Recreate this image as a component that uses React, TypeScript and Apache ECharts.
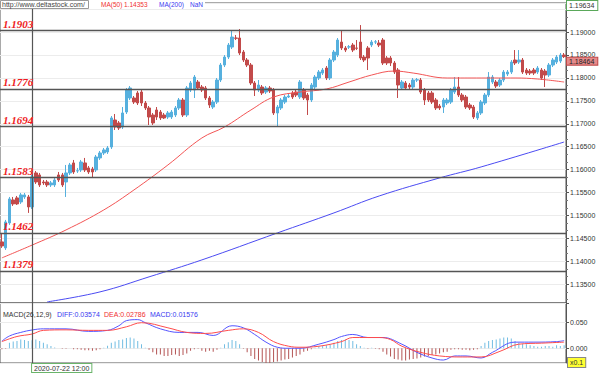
import React, { useEffect, useRef } from 'react';
import * as echarts from 'echarts';

// ---- price data (4h candles) ----
const opens = [
  1.14422, 1.14292, 1.14837, 1.15338, 1.15382, 1.15294, 1.15403, 1.15403, 1.15185, 1.15927,
  1.15883, 1.15730, 1.15730, 1.15665, 1.15665, 1.15883, 1.15883, 1.15730, 1.15927, 1.16145,
  1.15970, 1.15992, 1.16145, 1.16036, 1.16014, 1.15992, 1.16254, 1.16363, 1.16384, 1.16493,
  1.17082, 1.17017, 1.16929, 1.17256, 1.17562, 1.17562, 1.17671, 1.17692, 1.17453, 1.17344,
  1.17191, 1.17300, 1.17256, 1.17191, 1.17147, 1.17147, 1.17191, 1.17344, 1.17518, 1.17191,
  1.17736, 1.17736, 1.17910, 1.17801, 1.17780, 1.17562, 1.17365, 1.17474, 1.17954, 1.18281,
  1.18455, 1.18673, 1.18870, 1.18870, 1.18564, 1.18390, 1.18281, 1.17889, 1.17736, 1.17801,
  1.17692, 1.17780, 1.17736, 1.17235, 1.17344, 1.17474, 1.17583, 1.17671, 1.17692, 1.17583,
  1.17736, 1.17627, 1.17518, 1.17801, 1.17998, 1.18106, 1.18216, 1.17998, 1.18390, 1.18499,
  1.18782, 1.18652, 1.18673, 1.18717, 1.18652, 1.18782, 1.18455, 1.18652, 1.18717, 1.18782,
  1.18761, 1.18826, 1.18434, 1.18434, 1.18325, 1.18172, 1.17780, 1.17889, 1.17845, 1.17801,
  1.17954, 1.17954, 1.17736, 1.17671, 1.17671, 1.17518, 1.17387, 1.17365, 1.17453, 1.17474,
  1.17692, 1.17801, 1.17627, 1.17583, 1.17409, 1.17365, 1.17126, 1.17235, 1.17453, 1.17627,
  1.17910, 1.17910, 1.17845, 1.17954, 1.18085, 1.18128, 1.18390, 1.18346, 1.18390, 1.18172,
  1.18150, 1.18172, 1.18128, 1.18172, 1.18150, 1.18063, 1.18281, 1.18346, 1.18368, 1.18499,
];
const closes = [
  1.14335, 1.14858, 1.15360, 1.15251, 1.15251, 1.15447, 1.15447, 1.15185, 1.15839, 1.15730,
  1.15665, 1.15709, 1.15665, 1.15709, 1.15774, 1.15774, 1.15665, 1.15927, 1.16101, 1.15948,
  1.15975, 1.16166, 1.15992, 1.15948, 1.15948, 1.16275, 1.16363, 1.16428, 1.16472, 1.17126,
  1.16929, 1.16908, 1.17235, 1.17736, 1.17780, 1.17474, 1.17453, 1.17453, 1.17344, 1.17147,
  1.17017, 1.17147, 1.17126, 1.17126, 1.17235, 1.17256, 1.17344, 1.17518, 1.17191, 1.17780,
  1.17889, 1.18019, 1.17780, 1.17736, 1.17562, 1.17409, 1.17474, 1.17954, 1.18281, 1.18455,
  1.18717, 1.18891, 1.18865, 1.18543, 1.18390, 1.18281, 1.17889, 1.17736, 1.17845, 1.17671,
  1.17780, 1.17714, 1.17235, 1.17365, 1.17518, 1.17583, 1.17605, 1.17583, 1.17627, 1.17910,
  1.17562, 1.17518, 1.17845, 1.18019, 1.18128, 1.18172, 1.17998, 1.18390, 1.18564, 1.18826,
  1.18652, 1.18608, 1.18678, 1.18608, 1.18647, 1.18434, 1.18390, 1.18434, 1.18782, 1.18787,
  1.18717, 1.18325, 1.18325, 1.18325, 1.18128, 1.17845, 1.17910, 1.17780, 1.17801, 1.17954,
  1.17959, 1.17692, 1.17518, 1.17518, 1.17474, 1.17344, 1.17344, 1.17518, 1.17518, 1.17736,
  1.17801, 1.17627, 1.17518, 1.17365, 1.17344, 1.17147, 1.17235, 1.17474, 1.17627, 1.18019,
  1.18019, 1.17823, 1.17954, 1.18128, 1.18128, 1.18346, 1.18325, 1.18390, 1.18128, 1.18106,
  1.18106, 1.18106, 1.18216, 1.17998, 1.18063, 1.18281, 1.18390, 1.18455, 1.18499, 1.18464,
];
const lows = [
  1.14292, 1.14248, 1.14793, 1.15207, 1.15229, 1.15251, 1.15360, 1.15055, 1.15142, 1.15687,
  1.15621, 1.15665, 1.15621, 1.15621, 1.15621, 1.15730, 1.15621, 1.15403, 1.15883, 1.15905,
  1.15927, 1.15948, 1.15948, 1.15905, 1.15818, 1.15948, 1.16210, 1.16319, 1.16341, 1.16450,
  1.16864, 1.16864, 1.16886, 1.17213, 1.17518, 1.17431, 1.17409, 1.17387, 1.17300, 1.16973,
  1.16973, 1.17082, 1.17082, 1.17104, 1.17104, 1.17104, 1.17147, 1.17300, 1.17147, 1.17147,
  1.17692, 1.17562, 1.17736, 1.17692, 1.17518, 1.17344, 1.17322, 1.17431, 1.17910, 1.18237,
  1.18412, 1.18630, 1.18826, 1.18499, 1.18346, 1.18237, 1.17845, 1.17605, 1.17692, 1.17627,
  1.17649, 1.17671, 1.17191, 1.16929, 1.17300, 1.17431, 1.17562, 1.17540, 1.17583, 1.17540,
  1.17518, 1.17191, 1.17474, 1.17758, 1.17954, 1.18063, 1.17954, 1.17954, 1.18346, 1.18455,
  1.18608, 1.18564, 1.18630, 1.18564, 1.18608, 1.18390, 1.18346, 1.18172, 1.18673, 1.18739,
  1.18673, 1.18281, 1.18281, 1.18259, 1.18085, 1.17562, 1.17736, 1.17736, 1.17758, 1.17758,
  1.17910, 1.17649, 1.17409, 1.17474, 1.17431, 1.17300, 1.17300, 1.17235, 1.17409, 1.17431,
  1.17649, 1.17583, 1.17474, 1.17322, 1.17300, 1.17104, 1.17082, 1.17191, 1.17409, 1.17583,
  1.17867, 1.17780, 1.17801, 1.17910, 1.18041, 1.18085, 1.18281, 1.18303, 1.18085, 1.18063,
  1.18063, 1.18063, 1.18085, 1.17954, 1.17801, 1.18019, 1.18237, 1.18303, 1.18325, 1.18434,
];
const highs = [
  1.14618, 1.14902, 1.15403, 1.15403, 1.15425, 1.15491, 1.15491, 1.15447, 1.15883, 1.15970,
  1.15927, 1.15774, 1.15774, 1.15752, 1.15818, 1.15948, 1.15927, 1.16101, 1.16145, 1.16210,
  1.16036, 1.16210, 1.16254, 1.16079, 1.16058, 1.16319, 1.16406, 1.16472, 1.16515, 1.17169,
  1.17213, 1.17060, 1.17365, 1.17780, 1.17823, 1.17605, 1.17714, 1.17736, 1.17496, 1.17387,
  1.17235, 1.17365, 1.17300, 1.17235, 1.17278, 1.17300, 1.17387, 1.17562, 1.17562, 1.17823,
  1.17932, 1.18063, 1.17954, 1.17845, 1.17823, 1.17605, 1.17518, 1.17998, 1.18325, 1.18499,
  1.18761, 1.19044, 1.18935, 1.19066, 1.18608, 1.18434, 1.18325, 1.17932, 1.17954, 1.17845,
  1.17823, 1.17823, 1.17780, 1.17409, 1.17562, 1.17627, 1.17649, 1.17714, 1.17736, 1.17954,
  1.17780, 1.17671, 1.17889, 1.18063, 1.18172, 1.18216, 1.18259, 1.18434, 1.18608, 1.18870,
  1.19044, 1.18695, 1.18717, 1.18761, 1.18826, 1.19153, 1.18499, 1.18695, 1.18826, 1.18826,
  1.18826, 1.18870, 1.18477, 1.18477, 1.18368, 1.18216, 1.17954, 1.17932, 1.17889, 1.17998,
  1.17998, 1.17998, 1.17780, 1.17714, 1.17714, 1.17562, 1.17431, 1.17562, 1.17562, 1.17780,
  1.18019, 1.18019, 1.17671, 1.17627, 1.17453, 1.17409, 1.17278, 1.17518, 1.17671, 1.18128,
  1.18063, 1.17954, 1.17998, 1.18172, 1.18172, 1.18390, 1.18608, 1.18608, 1.18434, 1.18216,
  1.18194, 1.18216, 1.18259, 1.18216, 1.18194, 1.18325, 1.18434, 1.18499, 1.18543, 1.18543,
];

// Moving averages, read at sampled candle indices
const ma50Idx = [0, 8, 17, 27, 35, 44, 53, 59, 66, 72, 79, 86, 92, 98, 104, 109, 118, 127, 136, 142, 149];
const ma50Val = [1.14074, 1.14353, 1.14684, 1.15120, 1.15556, 1.16101, 1.16690, 1.16929, 1.17300, 1.17583, 1.17692, 1.17758, 1.17910, 1.18063, 1.18150, 1.18106, 1.17998, 1.17998, 1.17998, 1.17976, 1.17910];
const ma200Idx = [12, 26, 39, 53, 73, 88, 100, 116, 127, 149];
const ma200Val = [1.13114, 1.13332, 1.13660, 1.14030, 1.14618, 1.15055, 1.15425, 1.15818, 1.16058, 1.16602];

// MACD(26,12,9)
const macdHist = [
  -0.002, -0.001, 0.011, 0.013, 0.014, 0.017, 0.016, 0.014, 0.01576, 0.017,
  0.014, 0.011, 0.008, 0.0045, 0.0013, 0.0, -0.001, -0.001, 0.0, -0.002,
  -0.002, -0.003, -0.004, -0.004, -0.005, -0.004, -0.002, 0.001, 0.005, 0.011,
  0.013, 0.016, 0.017, 0.020, 0.021, 0.019, 0.014, 0.008, 0.001, -0.003,
  -0.008, -0.012, -0.012, -0.015, -0.015, -0.013, -0.012, -0.015, -0.013, -0.010,
  -0.005, -0.002, -0.001, -0.005, -0.007, -0.005, -0.007, -0.003, 0.001, 0.008,
  0.012, 0.016, 0.014, 0.008, -0.001, -0.008, -0.015, -0.021, -0.024, -0.027,
  -0.029, -0.029, -0.027, -0.026, -0.024, -0.022, -0.021, -0.018, -0.015, -0.012,
  -0.007, -0.005, -0.002, 0.001, 0.0045, 0.0045, 0.006, 0.008, 0.011, 0.014,
  0.016, 0.017, 0.016, 0.014, 0.008, 0.0045, 0.001, -0.001, 0.001, -0.001,
  -0.002, -0.007, -0.012, -0.016, -0.021, -0.022, -0.024, -0.024, -0.022, -0.021,
  -0.020, -0.018, -0.016, -0.015, -0.013, -0.012, -0.010, -0.008, -0.007, -0.003,
  -0.002, -0.002, -0.003, -0.003, -0.004, -0.003, -0.002, 0.0045, 0.011, 0.014,
  0.016, 0.017, 0.019, 0.021, 0.021, 0.019, 0.014, 0.011, 0.009, 0.008,
  0.006, 0.0045, 0.003, 0.003, 0.0045, 0.0045, 0.003, 0.006, 0.0045, 0.006,
];
const diffIdx = [0, 2, 5, 8, 11, 17, 23, 28, 31, 33, 36, 38, 42, 47, 52, 56, 61, 64, 67, 70, 73, 76, 79, 84, 88, 90, 93, 97, 101, 106, 110, 114, 117, 120, 123, 127, 130, 136, 141, 147, 149];
const diffVal = [0.014, 0.024, 0.031, 0.03574, 0.038, 0.038, 0.033, 0.035, 0.044, 0.054, 0.056, 0.050, 0.038, 0.031, 0.031, 0.025, 0.044, 0.040, 0.027, 0.012, 0.002, 0.000, 0.000, 0.008, 0.017, 0.023, 0.027, 0.021, 0.021, 0.008, -0.008, -0.019, -0.023, -0.015, -0.015, -0.019, -0.008, 0.012, 0.012, 0.013, 0.015];
const deaIdx = [0, 4, 8, 11, 17, 23, 28, 33, 37, 44, 49, 54, 60, 64, 68, 72, 76, 79, 84, 90, 93, 100, 103, 106, 111, 116, 122, 127, 132, 137, 143, 149];
const deaVal = [0.013, 0.023, 0.02786, 0.035, 0.036, 0.035, 0.035, 0.042, 0.050, 0.040, 0.031, 0.029, 0.035, 0.038, 0.031, 0.013, 0.004, 0.002, 0.004, 0.013, 0.021, 0.021, 0.017, 0.004, -0.008, -0.015, -0.017, -0.017, -0.006, 0.008, 0.010, 0.012];

// Horizontal support / resistance levels
const levels = [1.1903, 1.1776, 1.1694, 1.1583, 1.1462, 1.1379];
const crossIdx = 8;
const lastClose = 1.18464;
const yMin = 1.1309;
const yMax = 1.19634;
const macdMin = -0.0288;
const macdMax = 0.0885;

function pad(n: number) { return n < 10 ? '0' + n : '' + n; }
function buildCategories(n: number): string[] {
  const out: string[] = [];
  let t = Date.UTC(2020, 6, 21, 4);
  while (out.length < n) {
    const d = new Date(t);
    const wd = d.getUTCDay();
    if (wd !== 0 && wd !== 6) {
      out.push(`${d.getUTCFullYear()}-${pad(d.getUTCMonth() + 1)}-${pad(d.getUTCDate())} ${pad(d.getUTCHours())}:00`);
    }
    t += 4 * 3600 * 1000;
  }
  return out;
}
const categories = buildCategories(opens.length);

const UP = '#56b0de';
const DOWN = '#c24a4a';
const SMALL = 'Liberation Sans';

export default function App() {
  const ref = useRef<HTMLDivElement>(null);
  useEffect(() => {
    if (!ref.current) return;
    const chart = echarts.init(ref.current, undefined, { renderer: 'svg' });
    const candleData = opens.map((o, i) => [o, closes[i], lows[i], highs[i]]);
    const levelLines = levels.map((v) => ({
      yAxis: v,
      lineStyle: { color: '#555', width: 1.3, type: 'solid' },
      label: {
        show: true,
        position: 'insideStartTop',
        formatter: v.toFixed(4),
        color: '#ee1c24',
        fontStyle: 'italic',
        fontWeight: 'bold',
        fontFamily: 'Liberation Serif',
        fontSize: 11,
        distance: [3, 1],
      },
    }));
    const option: any = {
      animation: false,
      backgroundColor: '#ffffff',
      grid: [
        { left: 0, right: 34, top: 3, height: 300, show: true, borderColor: '#555', borderWidth: 1, backgroundColor: 'transparent' },
        { left: 0, right: 34, top: 303, height: 61, show: true, borderColor: '#555', borderWidth: 1, backgroundColor: 'transparent' },
      ],
      xAxis: [
        {
          type: 'category', gridIndex: 0, data: categories, boundaryGap: true,
          axisLine: { show: false }, axisTick: { show: false }, axisLabel: { show: false }, splitLine: { show: false },
        },
        {
          type: 'category', gridIndex: 1, data: categories, boundaryGap: true,
          axisLine: { show: false }, axisTick: { show: false }, splitLine: { show: false },
          axisLabel: {
            interval: (i: number) => i === crossIdx,
            align: 'left', margin: 1, fontSize: 7, fontFamily: SMALL, color: '#333',
            backgroundColor: '#fff', borderColor: '#6ab46a', borderWidth: 1, padding: [1, 2, 0, 2],
          },
        },
      ],
      yAxis: [
        {
          type: 'value', gridIndex: 0, position: 'right', min: yMin, max: yMax, splitNumber: 13, scale: true,
          axisLine: { show: true, lineStyle: { color: '#555' } },
          axisTick: { show: true, length: 3, lineStyle: { color: '#555' } },
          minorTick: { show: true, splitNumber: 3, length: 2, lineStyle: { color: '#777' } },
          axisLabel: {
            showMinLabel: false, showMaxLabel: false, margin: 4, fontSize: 7, fontFamily: SMALL, color: '#333',
            formatter: (v: number) => (v > 1.1945 ? '' : v.toFixed(5)),
          },
          splitLine: { show: true, lineStyle: { color: '#ececec', width: 1 } },
        },
        {
          type: 'value', gridIndex: 1, position: 'right', min: macdMin, max: macdMax, splitNumber: 2,
          axisLine: { show: true, lineStyle: { color: '#555' } },
          axisTick: { show: true, length: 3, lineStyle: { color: '#555' } },
          axisLabel: {
            showMinLabel: false, showMaxLabel: false, margin: 4, fontSize: 7, fontFamily: SMALL, color: '#333',
            formatter: (v: number) => v.toFixed(3),
          },
          splitLine: { show: true, lineStyle: { color: '#ececec', width: 1 } },
        },
      ],
      series: [
        {
          type: 'candlestick', name: 'EURUSD', xAxisIndex: 0, yAxisIndex: 0, data: candleData,
          barWidth: 3,
          itemStyle: { color: UP, color0: DOWN, borderColor: UP, borderColor0: DOWN, borderWidth: 1 },
          markLine: {
            symbol: 'none', silent: true, animation: false, precision: 5,
            data: [
              ...levelLines,
              { xAxis: categories[crossIdx], lineStyle: { color: '#555', width: 1.2, type: 'solid' }, label: { show: false } },
              {
                yAxis: lastClose, lineStyle: { color: 'rgba(0,0,0,0)', width: 0 },
                label: {
                  show: true, position: 'end', distance: 1, formatter: lastClose.toFixed(5), fontSize: 7, fontFamily: SMALL,
                  color: '#222', backgroundColor: '#e58a8a', borderColor: '#c04848', borderWidth: 1, padding: [0, 3, 0, 2],
                  offset: [0, 4.5],
                },
              },
              {
                yAxis: yMax, lineStyle: { color: 'rgba(0,0,0,0)', width: 0 },
                label: {
                  show: true, position: 'end', distance: 1, formatter: yMax.toFixed(5), fontSize: 7, fontFamily: SMALL,
                  color: '#333', backgroundColor: '#fff', borderColor: '#5aa85a', borderWidth: 1, padding: [1, 3, 1, 2],
                  offset: [0, 2.5],
                },
              },
            ],
          },
        },
        {
          type: 'line', name: 'MA(50)', xAxisIndex: 0, yAxisIndex: 0,
          data: ma50Idx.map((x, i) => [x, ma50Val[i]]), smooth: 0.4, showSymbol: false,
          lineStyle: { color: '#f25555', width: 1 },
        },
        {
          type: 'line', name: 'MA(200)', xAxisIndex: 0, yAxisIndex: 0,
          data: ma200Idx.map((x, i) => [x, ma200Val[i]]), smooth: 0.4, showSymbol: false,
          lineStyle: { color: '#4b4bf2', width: 1 },
        },
        {
          type: 'bar', name: 'MACD', xAxisIndex: 1, yAxisIndex: 1, barWidth: 1,
          data: macdHist.map((v) => ({ value: v, itemStyle: { color: v >= 0 ? '#72bde2' : '#b45454' } })),
          markLine: {
            symbol: 'none', silent: true, animation: false,
            data: [{ xAxis: categories[crossIdx], lineStyle: { color: '#555', width: 1.2, type: 'solid' }, label: { show: false } }],
          },
        },
        {
          type: 'line', name: 'DIFF', xAxisIndex: 1, yAxisIndex: 1,
          data: diffIdx.map((x, i) => [x, diffVal[i]]), smooth: 0.4, showSymbol: false,
          lineStyle: { color: '#5555ff', width: 1 },
        },
        {
          type: 'line', name: 'DEA', xAxisIndex: 1, yAxisIndex: 1,
          data: deaIdx.map((x, i) => [x, deaVal[i]]), smooth: 0.4, showSymbol: false,
          lineStyle: { color: '#ff4c4c', width: 1 },
        },
      ],
      graphic: [
        { type: 'rect', left: 0, top: 0, shape: { width: 205, height: 9 }, style: { fill: '#fff' }, z: 50 },
        { type: 'rect', left: 0, top: 0, shape: { width: 88, height: 8 }, style: { fill: '#fff', stroke: '#999', lineWidth: 1 }, z: 51 },
        { type: 'text', left: 2, top: 1, z: 52, style: { text: 'http://www.deltastock.com/', fill: '#444', font: `7px ${SMALL}` } },
        { type: 'text', left: 101, top: 1, z: 52, style: { text: 'MA(50)', fill: '#f03030', font: `6.5px ${SMALL}` } },
        { type: 'text', left: 124, top: 1, z: 52, style: { text: '1.14353', fill: '#f03030', font: `6.5px ${SMALL}` } },
        { type: 'text', left: 159, top: 1, z: 52, style: { text: 'MA(200)', fill: '#3a3af0', font: `6.5px ${SMALL}` } },
        { type: 'text', left: 190, top: 1, z: 52, style: { text: 'NaN', fill: '#3a3af0', font: `6.5px ${SMALL}` } },
        { type: 'text', left: 3, top: 311, z: 52, style: { text: 'MACD(26,12,9)', fill: '#333', font: `7px ${SMALL}` } },
        { type: 'text', left: 57, top: 311, z: 52, style: { text: 'DIFF:0.03574', fill: '#3a3af0', font: `7px ${SMALL}` } },
        { type: 'text', left: 104, top: 311, z: 52, style: { text: 'DEA:0.02786', fill: '#f03030', font: `7px ${SMALL}` } },
        { type: 'text', left: 150, top: 311, z: 52, style: { text: 'MACD:0.01576', fill: '#3a3af0', font: `7px ${SMALL}` } },
        {
          type: 'text', left: 567, top: 357, z: 52,
          style: { text: 'x0.1', fill: '#333', font: `7px ${SMALL}`, backgroundColor: '#ffff33', borderColor: '#888', borderWidth: 1, padding: [1, 2] },
        },
      ],
    };
    chart.setOption(option);
    return () => chart.dispose();
  }, []);
  return <div ref={ref} style={{ width: 600, height: 373, position: 'absolute', left: 0, top: 0 }} />;
}
